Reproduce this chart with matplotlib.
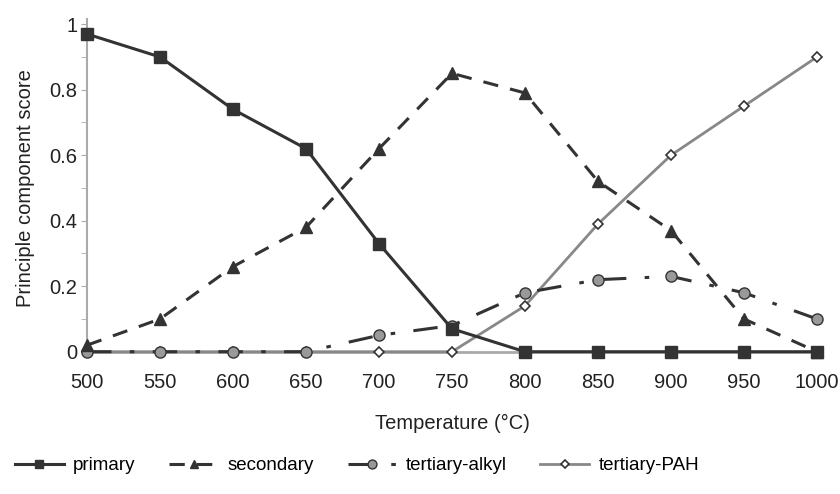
import numpy as np
import matplotlib.pyplot as plt

plt.rcParams['font.family'] = ['Liberation Sans', 'DejaVu Sans']

# 温度（°C）
temps = [500, 550, 600, 650, 700, 750, 800, 850, 900, 950, 1000]

# 各组分的主成分得分
primary = [0.97, 0.90, 0.74, 0.62, 0.33, 0.07, 0.0, 0.0, 0.0, 0.0, 0.0]
secondary = [0.02, 0.10, 0.26, 0.38, 0.62, 0.85, 0.79, 0.52, 0.37, 0.10, 0.0]
tertiary_alkyl = [0.0, 0.0, 0.0, 0.0, 0.05, 0.08, 0.18, 0.22, 0.23, 0.18, 0.10]
tertiary_pah = [0.0, 0.0, 0.0, 0.0, 0.0, 0.0, 0.14, 0.39, 0.60, 0.75, 0.90]

y_ticks = [0, 0.2, 0.4, 0.6, 0.8, 1]
y_ticklabels = ['0', '0.2', '0.4', '0.6', '0.8', '1']

fig = plt.figure(figsize=(8.4, 4.94), dpi=100)
ax = fig.add_axes([0.1036, 0.288, 0.869, 0.663])

dark = '#333333'
grey = '#888888'

ax.plot(temps, tertiary_pah, color=grey, lw=2, marker='D', ms=5,
        mfc='white', mec=dark, mew=1.2, label='tertiary-PAH', clip_on=False, zorder=3)
ax.plot(temps, tertiary_alkyl, color=dark, lw=2.2, ls=(0, (8, 6, 1.5, 6)), marker='o', ms=8,
        mfc='#999999', mec=dark, mew=1, label='tertiary-alkyl', clip_on=False, zorder=4)
ax.plot(temps, secondary, color=dark, lw=2.2, ls=(0, (5, 4)), marker='^', ms=8,
        mfc=dark, mec=dark, label='secondary', clip_on=False, zorder=5)
ax.plot(temps, primary, color=dark, lw=2.2, marker='s', ms=8,
        mfc=dark, mec=dark, label='primary', clip_on=False, zorder=6)

ax.set_xlim(500, 1000)
ax.set_ylim(0, 1)
ax.set_xticks(temps)
ax.set_yticks(y_ticks)
ax.set_yticklabels(y_ticklabels)
ax.set_yticks(np.arange(0.1, 1.0, 0.2), minor=True)

for s in ['top', 'right']:
    ax.spines[s].set_visible(False)
ax.spines['left'].set_color('#aaaaaa')
ax.spines['left'].set_linewidth(1.5)
ax.spines['bottom'].set_color('#aaaaaa')
ax.spines['bottom'].set_linewidth(2)
ax.spines['left'].set_bounds(0, 1.015)

ax.tick_params(axis='x', length=0, pad=15, labelsize=14.5, labelcolor='#222222')
ax.tick_params(axis='y', which='both', length=4, color='#aaaaaa', labelsize=14.5,
               labelcolor='#222222', pad=3)

ax.set_xlabel('Temperature (°C)', fontsize=14.5, labelpad=16, color='#222222')
ax.set_ylabel('Principle component score', fontsize=14.5, labelpad=10, color='#222222')

handles, labels = ax.get_legend_handles_labels()
order = [3, 2, 1, 0]
fig.legend([handles[i] for i in order], [labels[i] for i in order],
           loc='center', bbox_to_anchor=(0.425, 0.057), ncol=4, frameon=False,
           fontsize=13.5, handlelength=2.6, columnspacing=1.8, handletextpad=0.5,
           markerscale=0.8)

fig.savefig('out.png', dpi=100)
